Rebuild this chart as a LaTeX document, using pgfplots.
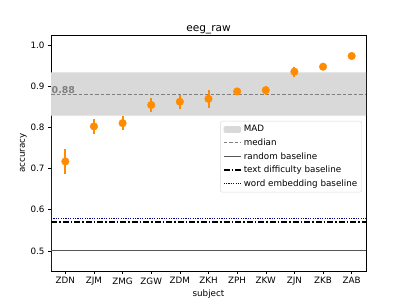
\documentclass[border=0pt]{standalone}
\usepackage{pgfplots}
\pgfplotsset{compat=1.18}
\usepackage{fontspec}
\setmainfont{DejaVu Sans}
\definecolor{dorange}{HTML}{FF8C00}
\definecolor{madgray}{HTML}{D9D9D9}
\definecolor{medgray}{HTML}{808080}
\definecolor{randgray}{HTML}{555555}
\definecolor{wblue}{HTML}{00008B}
\begin{document}
\begin{tikzpicture}
\path[use as bounding box] (-51bp,-34bp) rectangle (356bp,271bp);
\begin{axis}[
  at={(0,0)}, anchor=south west,
  scale only axis, width=315bp, height=236bp,
  xmin=-0.5, xmax=10.5, ymin=0.451, ymax=1.024,
  xtick={0,...,10},
  xticklabels={ZDN,ZJM,ZMG,ZGW,ZDM,ZKH,ZPH,ZKW,ZJN,ZKB,ZAB},
  ytick={0.5,0.6,0.7,0.8,0.9,1.0},
  yticklabel style={/pgf/number format/.cd,fixed,fixed zerofill,precision=1,assume math mode=true},
  tick label style={font=\fontsize{8.8}{10}\selectfont},
  tick align=outside, tick pos=left,
  major tick length=3bp,
  every tick/.style={black, line width=0.5pt},
  axis line style={line width=0.6pt},
  title={eeg\_raw},
  title style={font=\fontsize{10.6}{12}\selectfont, yshift=-8bp},
  xlabel={subject}, ylabel={accuracy},
  label style={font=\fontsize{8.8}{10}\selectfont},
  xlabel style={yshift=3bp},
  ylabel style={yshift=-3bp},
  legend style={at={(0.987,0.636)}, anchor=north east, font=\fontsize{8.8}{10}\selectfont,
    draw=black!15, rounded corners=2pt, row sep=1.4bp, inner sep=2.5bp},
  legend cell align=left,
  legend image code/.code={\draw[#1] (0cm,0cm) -- (0.62cm,0cm);},
]
\addplot[fill=madgray, draw=none, area legend,
  legend image code/.code={\fill[madgray] (0cm,-0.12cm) rectangle (0.62cm,0.12cm);}] coordinates {(-0.5,0.828) (10.5,0.828) (10.5,0.933) (-0.5,0.933)} \closedcycle;
\addlegendentry{MAD}
\addplot[medgray, line width=1pt, dash pattern=on 3.5bp off 2bp] coordinates {(-0.5,0.880) (10.5,0.880)};
\addlegendentry{median}
\addplot[randgray, line width=1pt] coordinates {(-0.5,0.5) (10.5,0.5)};
\addlegendentry{random baseline}
\addplot[black, line width=1.4pt, dash pattern=on 6bp off 2bp on 1.5bp off 2bp] coordinates {(-0.5,0.570) (10.5,0.570)};
\addlegendentry{text difficulty baseline}
\addplot[wblue, line width=1pt, dash pattern=on 1.2bp off 1.2bp] coordinates {(-0.5,0.578) (10.5,0.578)};
\addlegendentry{word embedding baseline}
\addplot[only marks, mark=*, mark size=3.8bp, dorange, mark options={draw=dorange, fill=dorange}, forget plot,
  error bars/.cd, y dir=both, y explicit, error mark=none,
  error bar style={line width=2bp, dorange}]
  coordinates {
  (0,0.717) +- (0,0.030)
  (1,0.802) +- (0,0.018)
  (2,0.810) +- (0,0.017)
  (3,0.854) +- (0,0.017)
  (4,0.862) +- (0,0.017)
  (5,0.869) +- (0,0.022)
  (6,0.887) +- (0,0.005)
  (7,0.890) +- (0,0.011)
  (8,0.935) +- (0,0.012)
  (9,0.947) +- (0,0.005)
  (10,0.973) +- (0,0.008)
  };
\node[anchor=south west, text=medgray, font=\fontsize{9.5}{10}\selectfont\bfseries, inner sep=0.5bp] at (axis cs:-0.5,0.880) {0.88};
\end{axis}
\end{tikzpicture}
\end{document}
